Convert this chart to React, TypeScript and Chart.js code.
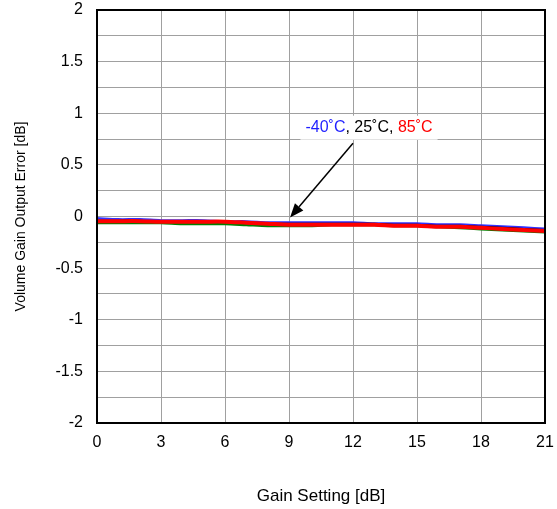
import React, { useEffect, useRef } from "react";
import { Chart, registerables } from "chart.js";
Chart.register(...registerables);

const gainSteps = [0,1,2,3,4,5,6,7,8,9,10,11,12,13,14,15,16,17,18,19,20,21];
const errMinus40 = [-0.02,-0.03,-0.03,-0.04,-0.04,-0.04,-0.05,-0.05,-0.06,-0.06,-0.06,-0.06,-0.06,-0.07,-0.07,-0.07,-0.08,-0.08,-0.09,-0.10,-0.11,-0.12];
const err25 = [-0.04,-0.04,-0.04,-0.05,-0.05,-0.05,-0.05,-0.06,-0.07,-0.07,-0.07,-0.07,-0.07,-0.07,-0.08,-0.08,-0.09,-0.09,-0.10,-0.11,-0.12,-0.13];
const errGreen = [-0.06,-0.06,-0.06,-0.06,-0.07,-0.07,-0.07,-0.08,-0.09,-0.09,-0.09,-0.08,-0.08,-0.08,-0.09,-0.09,-0.10,-0.11,-0.12,-0.13,-0.14,-0.15];
const err85 = [-0.045,-0.045,-0.045,-0.05,-0.05,-0.05,-0.05,-0.06,-0.07,-0.08,-0.08,-0.08,-0.08,-0.08,-0.09,-0.09,-0.10,-0.10,-0.11,-0.12,-0.13,-0.14];
const yLabels = ["-2","-1.5","-1","-0.5","0","0.5","1","1.5","2"];

const annotationParts = [
  { text: "-40˚C", color: "#1f1fff" },
  { text: ", 25˚C, ", color: "#000000" },
  { text: "85˚C", color: "#ff0000" },
];
const annotationPos = { x: 12.75, y: 0.86 };
const arrowFrom = { x: 12, y: 0.71 };
const arrowTo = { x: 9.05, y: -0.01 };

const FONT = "'Liberation Sans', Arial, sans-serif";

const annotationPlugin = {
  id: "annot",
  afterDatasetsDraw(chart: any) {
    const { ctx, scales } = chart;
    const xs = scales.x, ys = scales.y;
    ctx.save();
    ctx.font = `16px ${FONT}`;
    const widths = annotationParts.map((p) => ctx.measureText(p.text).width);
    const total = widths.reduce((a, b) => a + b, 0);
    const cx = xs.getPixelForValue(annotationPos.x);
    const cy = ys.getPixelForValue(annotationPos.y);
    ctx.fillStyle = "#ffffff";
    ctx.fillRect(cx - total / 2 - 5, cy - 12, total + 10, 24);
    let x = cx - total / 2;
    ctx.textBaseline = "middle";
    annotationParts.forEach((p, i) => {
      ctx.fillStyle = p.color;
      ctx.fillText(p.text, x, cy);
      x += widths[i];
    });
    const x1 = xs.getPixelForValue(arrowFrom.x), y1 = ys.getPixelForValue(arrowFrom.y);
    const x2 = xs.getPixelForValue(arrowTo.x), y2 = ys.getPixelForValue(arrowTo.y);
    const ang = Math.atan2(y2 - y1, x2 - x1);
    const head = 14;
    const bx = x2 - head * Math.cos(ang), by = y2 - head * Math.sin(ang);
    ctx.strokeStyle = "#000";
    ctx.lineWidth = 1.5;
    ctx.beginPath();
    ctx.moveTo(x1, y1);
    ctx.lineTo(bx, by);
    ctx.stroke();
    ctx.fillStyle = "#000";
    ctx.beginPath();
    ctx.moveTo(x2, y2);
    ctx.lineTo(bx + 5.5 * Math.sin(ang), by - 5.5 * Math.cos(ang));
    ctx.lineTo(bx - 5.5 * Math.sin(ang), by + 5.5 * Math.cos(ang));
    ctx.closePath();
    ctx.fill();
    const a = chart.chartArea;
    ctx.strokeStyle = "#000";
    ctx.lineWidth = 2;
    ctx.strokeRect(a.left, a.top, a.right - a.left, a.bottom - a.top);
    ctx.restore();
  },
};

export default function App() {
  const ref = useRef<HTMLCanvasElement>(null);
  useEffect(() => {
    const mk = (label: string, data: number[], color: string, w: number) => ({
      label,
      data: gainSteps.map((g, i) => ({ x: g, y: data[i] })),
      borderColor: color,
      backgroundColor: color,
      borderWidth: w,
      pointRadius: 0,
      tension: 0.3,
    });
    const chart = new Chart(ref.current!, {
      type: "line",
      data: {
        datasets: [
          mk("85°C", err85, "#ff0000", 4),
          mk("25°C", err25, "#000000", 2),
          mk("green", errGreen, "#008000", 3),
          mk("-40°C", errMinus40, "#3030ff", 3),
        ],
      },
      options: {
        animation: false,
        responsive: false,
        maintainAspectRatio: false,
        layout: { padding: { top: 10, right: 12, left: 0, bottom: 0 } },
        plugins: { legend: { display: false }, tooltip: { enabled: false } },
        scales: {
          x: {
            type: "linear",
            min: 0,
            max: 21,
            ticks: { stepSize: 3, color: "#000", font: { family: FONT, size: 16 }, padding: 10 },
            grid: { color: "#a0a0a0", lineWidth: 1, drawTicks: false },
            border: { display: false },
            title: {
              display: true,
              text: "Gain Setting [dB]",
              color: "#000",
              font: { family: FONT, size: 17 },
              padding: { top: 0, bottom: 2 },
            },
            afterFit(s: any) { s.height = 86; s.paddingLeft = 0; s.paddingRight = 0; },
          },
          y: {
            type: "linear",
            min: -2,
            max: 2,
            ticks: {
              stepSize: 0.25,
              color: "#000",
              font: { family: FONT, size: 16 },
              padding: 14,
              callback: (v: any) => {
                const n = Number(v);
                const idx = Math.round((n + 2) * 2);
                return Math.abs(n * 2 - Math.round(n * 2)) < 1e-6 ? yLabels[idx] : "";
              },
            },
            grid: { color: "#a0a0a0", lineWidth: 1, drawTicks: false },
            border: { display: false },
            title: {
              display: true,
              text: "Volume Gain Output Error [dB]",
              color: "#000",
              font: { family: FONT, size: 14 },
              padding: { top: 13, bottom: 0 },
            },
            afterFit(s: any) { s.width = 97; s.paddingTop = 0; s.paddingBottom = 0; },
          },
        },
      },
      plugins: [annotationPlugin],
    });
    return () => chart.destroy();
  }, []);
  return (
    <div style={{ position: "absolute", left: 0, top: 0, width: 557, height: 509, background: "#fff" }}>
      <canvas ref={ref} width={557} height={509} style={{ width: 557, height: 509 }} />
    </div>
  );
}
